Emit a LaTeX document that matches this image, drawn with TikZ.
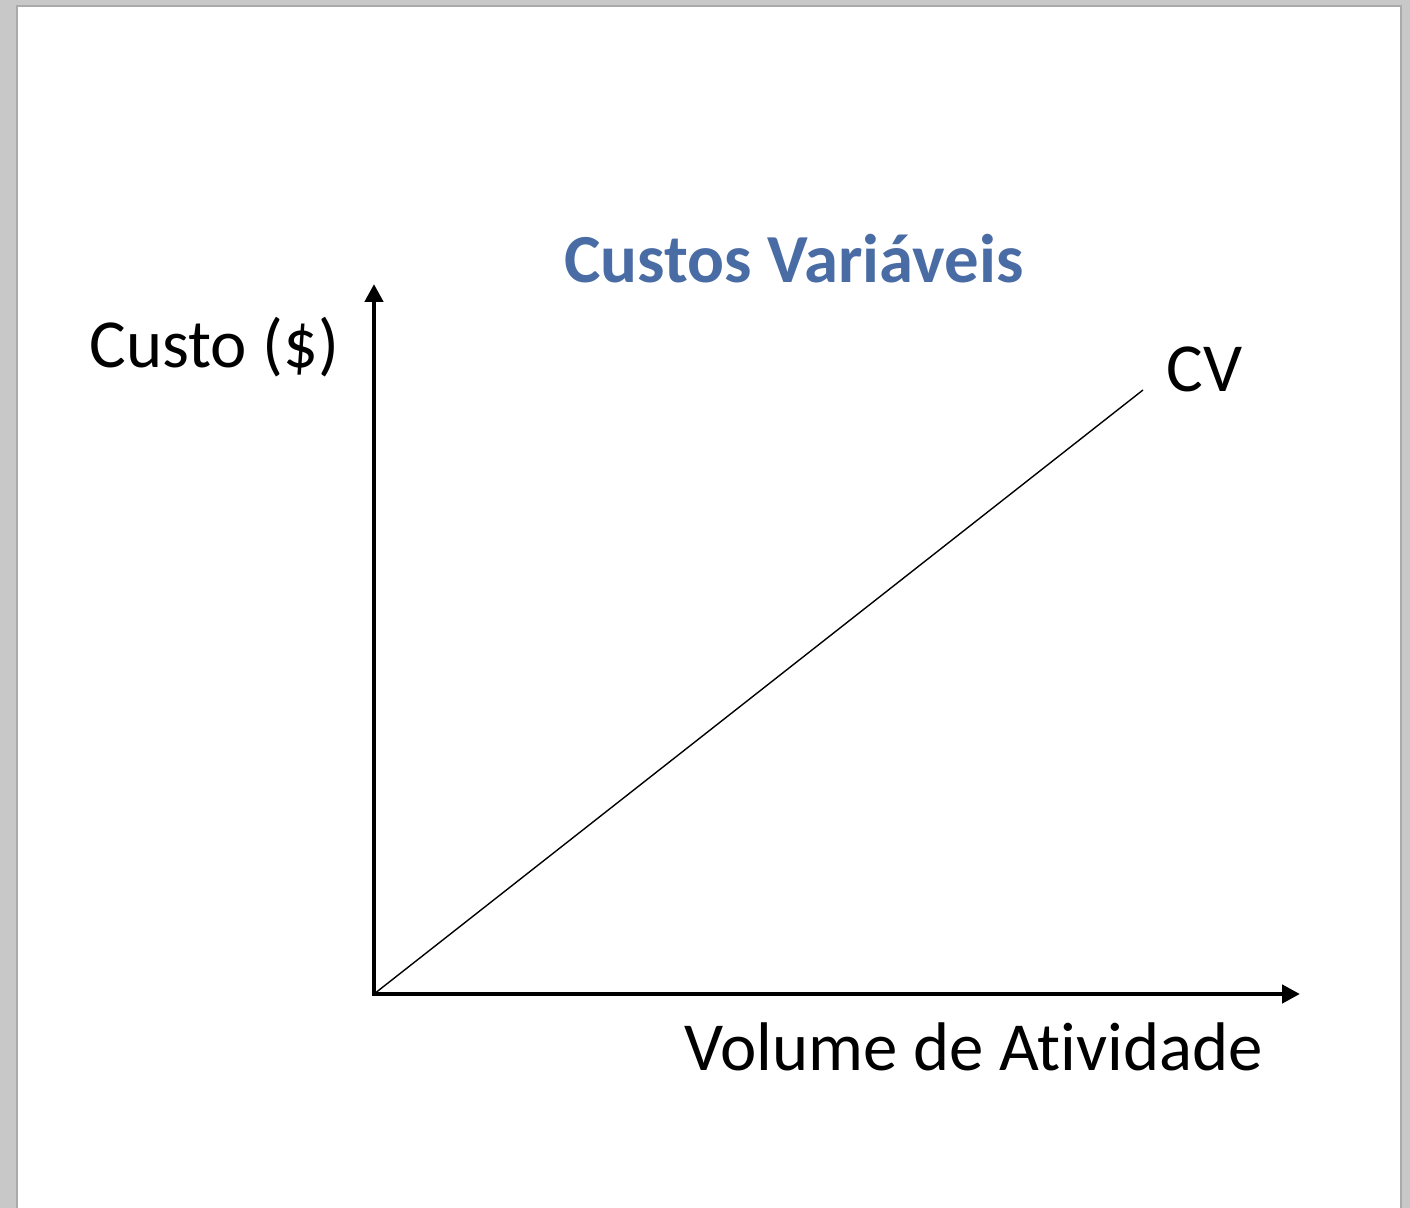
\documentclass[tikz,border=0pt]{standalone}
\usepackage{fontspec}
\setmainfont[Ligatures=NoCommon,RawFeature=-liga]{Carlito}
\usetikzlibrary{arrows.meta}
\definecolor{titleblue}{RGB}{74,108,164}
\definecolor{frame}{RGB}{200,200,200}
\definecolor{frameedge}{RGB}{170,170,170}
\tikzset{
  lbl/.style={anchor=base west, inner sep=0pt, font=\fontsize{34.4}{41}\selectfont},
  axis/.style={line width=2.4pt, -{Triangle[length=9pt,width=9pt]}},
  cvline/.style={line width=0.7pt}
}
\begin{document}
\begin{tikzpicture}[x=0.5pt,y=-0.5pt]
\useasboundingbox (0,0) rectangle (1410,1208);
\fill[frame] (0,0) rectangle (1410,1208);
\fill[frameedge] (16,5) rectangle (1402,1208);
\fill[white] (18,7) rectangle (1400,1208);
\coordinate (O) at (374,994);
\coordinate (Ybase) at (374,996);
\coordinate (Xbase) at (372,994);
\coordinate (Ytop) at (374,284);
\coordinate (Xend) at (1300,994);
\coordinate (CVend) at (1143,390);
\draw[axis] (Ybase) -- (Ytop);
\draw[axis] (Xbase) -- (Xend);
\draw[cvline] (O) -- (CVend);
\node[lbl] (ylab) at (89,368) {Custo (\$)};
\node[lbl, text=titleblue, font=\fontsize{34.4}{41}\selectfont\bfseries] (title) at (564,283) {Custos Variáveis};
\node[lbl] (cv) at (1166,392) {CV};
\node[lbl] (xlab) at (684,1070) {Volume de Atividade};
\end{tikzpicture}
\end{document}
